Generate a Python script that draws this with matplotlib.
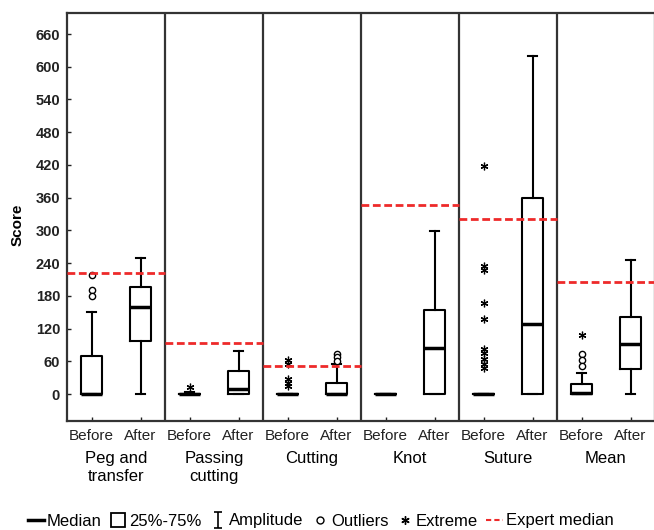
import matplotlib
matplotlib.use("Agg")
import matplotlib.pyplot as plt
from matplotlib.lines import Line2D
from matplotlib.path import Path
import numpy as np

plt.rcParams['font.family'] = ['Liberation Sans', 'DejaVu Sans']

# ---- data ----
groups = ["Peg and\ntransfer", "Passing\ncutting", "Cutting", "Knot", "Suture", "Mean"]
phases = ["Before", "After"]
q1     = [0,  98, 0,  0, 0,  0, 0,   0, 0,   0,  0,  45]
med    = [0, 160, 0, 10, 0,  0, 0,  84, 0, 128,  2,  91]
q3     = [70, 196, 0, 43, 0, 21, 0, 154, 0, 359, 18, 141]
whislo = [0,   0, 0,  0, 0,  0, 0,   0, 0,   0,  0,  0]
whishi = [151, 249, 4, 79, 0, 55, 0, 298, 0, 619, 38, 246]
outliers = [[218, 190, 179], [], [], [], [], [73, 67, 61], [], [], [], [], [73, 63, 52], []]
extremes = [[], [], [12], [], [62, 55, 28, 20, 15], [], [], [],
            [418, 235, 228, 167, 137, 82, 75, 65, 55, 47], [], [108], []]
expert_median = [222, 93, 51, 346, 321, 205]
yticks = list(range(0, 661, 60))

# ---- figure ----
fig = plt.figure(figsize=(6.54, 5.30), dpi=100)
W, H = 654, 530
left, right, top, bottom = 67, 655, 13, 421
ax = fig.add_axes([left / W, 1 - bottom / H, (right - left) / W, (bottom - top) / H])

positions = np.arange(1, len(med) + 1)
stats = []
for i in range(len(med)):
    stats.append(dict(med=med[i], q1=q1[i], q3=q3[i], whislo=whislo[i], whishi=whishi[i], fliers=[]))

ax.bxp(stats, positions=positions, widths=0.42, capwidths=0.2, showfliers=False,
       manage_ticks=False,
       boxprops=dict(color='black', lw=1.5),
       whiskerprops=dict(color='black', lw=1.5),
       capprops=dict(color='black', lw=1.5),
       medianprops=dict(color='black', lw=2.5))

asterisk = (6, 2, 0)
for i, pos in enumerate(positions):
    if outliers[i]:
        ax.plot([pos] * len(outliers[i]), outliers[i], linestyle='none', marker='o',
                ms=4.5, mfc='white', mec='black', mew=1.0, zorder=4)
    if extremes[i]:
        ax.plot([pos] * len(extremes[i]), extremes[i], linestyle='none', marker=asterisk,
                ms=5.5, mec='black', mew=0.9, zorder=4)

for k, e in enumerate(expert_median):
    ax.plot([0.5 + 2 * k, 2.5 + 2 * k], [e, e], color='#ee2a2a', lw=2,
            dashes=(2.8, 1.3), zorder=5)

for k in range(1, len(groups)):
    ax.axvline(0.5 + 2 * k, color='#333333', lw=1.6, zorder=2)

ax.set_xlim(0.5, 12.5)
ax.set_ylim(-49.5, 698.5)
ax.set_yticks(yticks)
ax.set_yticklabels([str(t) for t in yticks], fontweight='bold', fontsize=10.5)
ax.set_xticks(positions)
ax.set_xticklabels(phases * len(groups), fontsize=11)
ax.tick_params(axis='y', direction='in', length=3, width=1, pad=5, colors='#222222')
ax.tick_params(axis='x', direction='in', length=3, width=1, pad=6, colors='#222222')
for s in ax.spines.values():
    s.set_color('#333333')
    s.set_linewidth(1.6)

ax.set_ylabel('Score', fontweight='bold', fontsize=11)
ax.yaxis.set_label_coords(-0.072, 0.48)

for k, g in enumerate(groups):
    ax.annotate(g, xy=(1.5 + 2 * k, 0), xycoords=('data', 'axes fraction'),
                xytext=(0, -21.5), textcoords='offset points', ha='center', va='top',
                fontsize=12, linespacing=1.25)

# ---- legend ----
ibeam = Path([(-0.5, 1), (0.5, 1), (0, 1), (0, -1), (-0.5, -1), (0.5, -1)],
             [Path.MOVETO, Path.LINETO, Path.MOVETO, Path.LINETO, Path.MOVETO, Path.LINETO])
handles = [
    Line2D([], [], color='black', lw=2.5),
    Line2D([], [], linestyle='none', marker='s', ms=10, mfc='white', mec='black', mew=1.3),
    Line2D([], [], linestyle='none', marker=ibeam, ms=11, mec='black', mew=1.2),
    Line2D([], [], linestyle='none', marker='o', ms=5, mfc='white', mec='black', mew=1.0),
    Line2D([], [], linestyle='none', marker=asterisk, ms=6, mec='black', mew=1.0),
    Line2D([], [], color='#ee2a2a', lw=1.5, dashes=(2.5, 1.5)),
]
labels = ['Median', '25%-75%', 'Amplitude', 'Outliers', 'Extreme', 'Expert median']
fig.legend(handles, labels, loc='center', bbox_to_anchor=(0.49, 1 - 521 / H), ncol=6,
           frameon=False, fontsize=12, handlelength=1.0, handletextpad=0.15,
           columnspacing=0.5, borderaxespad=0)

fig.savefig('out.png', dpi=100)
